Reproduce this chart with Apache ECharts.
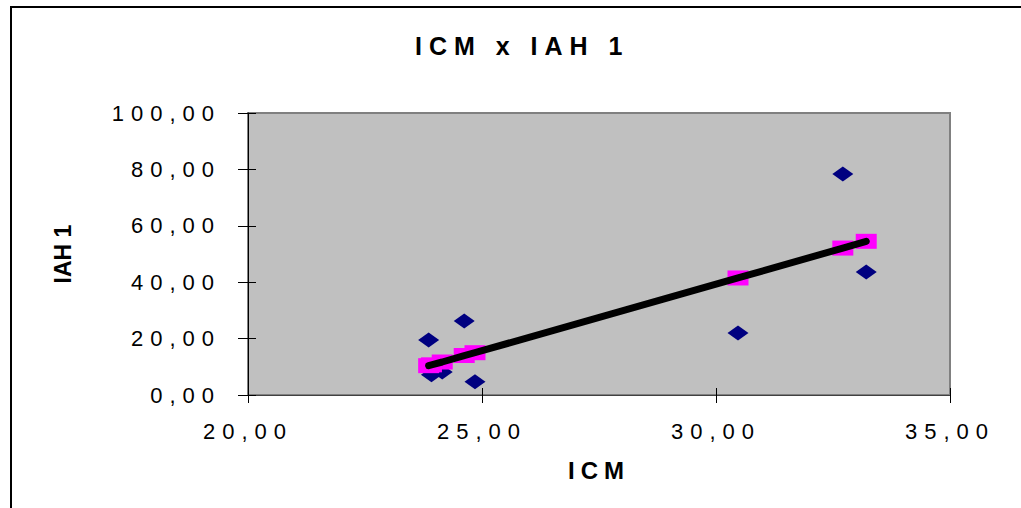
<!DOCTYPE html>
<html>
<head>
<meta charset="utf-8">
<script src="https://cdn.jsdelivr.net/npm/echarts@6/dist/echarts.min.js"></script>
<style>
  html, body { margin: 0; padding: 0; background: #fff; }
  #chart { width: 1021px; height: 508px; }
  /* spaced-out lettering, keyed on each text's font size */
  #chart text[style*="22px"] { letter-spacing: 7px; }
  #chart text[style*="25px"] { letter-spacing: 7px; }
  #chart text[style*="24px"] { letter-spacing: 6px; }
  #chart text[style*="23px"] { letter-spacing: 0; }
</style>
</head>
<body>
<div id="chart"></div>
<script>
// ICM values and observed IAH 1
const icm = [23.86, 23.92, 24.15, 24.62, 24.85, 30.47, 32.71, 33.21];
const iah1 = [19.5, 7.2, 8.2, 26.2, 4.7, 22.0, 78.4, 43.6];
// fitted IAH 1 on the trend line at each ICM value
const iahFitted = [10.4, 10.7, 11.7, 14.0, 15.0, 41.5, 52.1, 54.5];

const xTickLabels = ['20,00', '25,00', '30,00', '35,00'];
const yTickLabels = ['0,00', '20,00', '40,00', '60,00', '80,00', '100,00'];

const observed = icm.map((x, i) => [x, iah1[i]]);
const fitted = icm.map((x, i) => [x, iahFitted[i]]);

const FONT = "'Liberation Sans', Arial, sans-serif";

const chart = echarts.init(document.getElementById('chart'), null, { renderer: 'svg' });

const xBase = { type: 'value', min: 20, max: 35, interval: 5, position: 'bottom', splitLine: { show: false } };
const yBase = { type: 'value', min: 0, max: 100, interval: 20, position: 'left', splitLine: { show: false } };

chart.setOption({
  animation: false,
  backgroundColor: '#ffffff',
  title: {
    text: 'ICM x IAH 1',
    left: 410,
    top: 28,
    textStyle: { fontFamily: FONT, fontSize: 25, fontWeight: 'bold', color: '#000' }
  },
  graphic: [{
    type: 'rect',
    shape: { x: 11, y: 7, width: 1040, height: 540 },
    style: { fill: null, stroke: '#000', lineWidth: 2 },
    silent: true
  }],
  grid: {
    left: 248, top: 113, right: 71, bottom: 113,
    show: true,
    backgroundColor: '#C0C0C0',
    borderColor: '#808080',
    borderWidth: 2
  },
  xAxis: [
    Object.assign({}, xBase, {
      name: 'ICM',
      nameLocation: 'middle',
      nameGap: 63,
      nameTextStyle: { fontFamily: FONT, fontSize: 24, fontWeight: 'bold', color: '#000' },
      axisLine: { show: true, onZero: false, lineStyle: { color: '#404040', width: 1 } },
      axisTick: { show: true, inside: false, length: 8, lineStyle: { color: '#000', width: 1 } },
      axisLabel: {
        margin: 25,
        fontFamily: FONT, fontSize: 22, color: '#000',
        formatter: (v, i) => xTickLabels[i]
      }
    }),
    Object.assign({}, xBase, {
      axisLine: { show: false },
      axisTick: { show: true, inside: true, length: 7, lineStyle: { color: '#000', width: 1 } },
      axisLabel: { show: false }
    })
  ],
  yAxis: [
    Object.assign({}, yBase, {
      name: 'IAH 1',
      nameLocation: 'middle',
      nameGap: 174,
      nameRotate: 90,
      nameTextStyle: { fontFamily: FONT, fontSize: 23, fontWeight: 'bold', color: '#000' },
      axisLine: { show: true, onZero: false, lineStyle: { color: '#000', width: 1 } },
      axisTick: { show: true, inside: false, length: 10, lineStyle: { color: '#000', width: 1 } },
      axisLabel: {
        margin: 27,
        fontFamily: FONT, fontSize: 22, color: '#000',
        formatter: (v, i) => yTickLabels[i]
      }
    }),
    Object.assign({}, yBase, {
      axisLine: { show: false },
      axisTick: { show: true, inside: true, length: 8, lineStyle: { color: '#000', width: 1 } },
      axisLabel: { show: false }
    })
  ],
  series: [
    {
      name: 'IAH 1',
      type: 'scatter',
      data: observed,
      symbol: 'diamond',
      symbolSize: [21, 15],
      itemStyle: { color: '#000080', opacity: 1 },
      emphasis: { disabled: true },
      z: 2
    },
    {
      name: 'IAH 1 previsto',
      type: 'scatter',
      data: fitted,
      symbol: 'rect',
      symbolSize: [21, 15],
      itemStyle: { color: '#FF00FF', opacity: 1 },
      emphasis: { disabled: true },
      z: 3
    },
    {
      name: 'Linear',
      type: 'line',
      data: fitted,
      symbol: 'none',
      lineStyle: { color: '#000', width: 7, cap: 'round', join: 'round' },
      emphasis: { disabled: true },
      z: 4
    }
  ]
});
</script>
</body>
</html>
